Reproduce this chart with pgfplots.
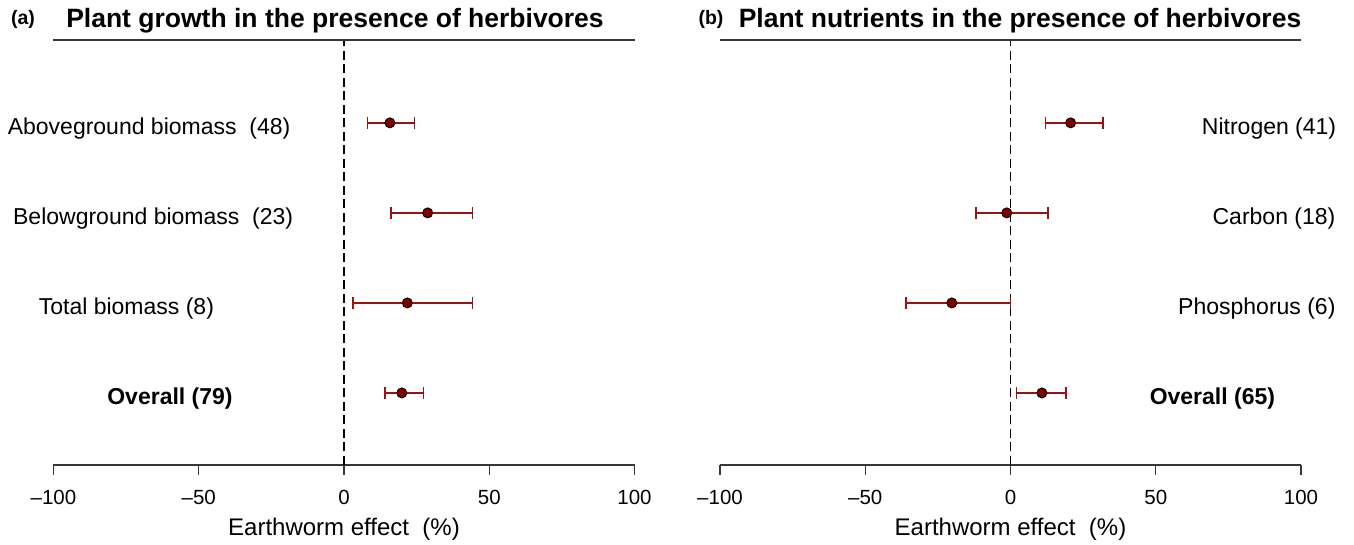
\documentclass[border=0pt]{standalone}
\usepackage{pgfplots}
\usepackage{pgfplotstable}
\pgfplotsset{compat=1.18}
\usepackage{fontspec}
\setmainfont{Liberation Sans}
\definecolor{barred}{RGB}{150,20,20}
\definecolor{ptred}{RGB}{128,0,0}
\definecolor{axgray}{RGB}{55,55,55}
\newcommand{\lab}{\fontsize{23}{27}\selectfont}
\pgfplotstableread{
x y ep em
15.8 4 8.4 7.7
28.8 3 15.4 12.6
21.8 2 22.4 18.7
19.9 1 7.4 5.8
}\growth
\pgfplotstableread{
x y ep em
20.7 4 11.2 8.7
-1.3 3 14.2 10.6
-20.2 2 20.2 15.8
10.8 1 8.2 8.8
}\nutr
\pgfplotsset{
  forest/.style={
    scale only axis, width=581pt, height=425pt,
    xmin=-100, xmax=100, ymin=0.2, ymax=4.92,
    axis x line*=bottom, axis y line=none,
    xtick={-100,-50,0,50,100},
    xticklabels={\textendash100,\textendash50,0,50,100},
    ytick=\empty,
    tick align=outside, major tick length=10pt,
    every tick/.style={axgray, line width=1.2pt},
    axis line style={axgray, line width=1.2pt},
    xticklabel style={font=\fontsize{20.5}{24}\selectfont, yshift=-12pt},
    clip=false,
  },
  zl/.style={black, line width=1.3pt, dash pattern=on 9pt off 4.5pt},
}
\newcommand{\forestplot}[1]{%
  \addplot[barred, line width=2pt, only marks, mark=none,
    error bars/.cd, x dir=both, x explicit,
    error bar style={line width=2pt, barred},
    error mark=|,
    error mark options={barred, line width=1.6pt, mark size=6pt}]
    table[x=x, y=y, x error plus=ep, x error minus=em] {#1};
  \addplot[only marks, mark=*, mark size=5pt,
    mark options={fill=ptred, draw=black, line width=0.9pt}]
    table[x=x, y=y] {#1};
}
\begin{document}
\begin{tikzpicture}
\useasboundingbox (0,0) rectangle (1354pt,545pt);
% ---------- panel (a)
\begin{axis}[forest, at={(53.5pt,80pt)}, anchor=south west]
\addplot[zl] coordinates {(0,0.2) (0,4.92)};
\draw[axgray, line width=1.2pt] (rel axis cs:0,1) -- (rel axis cs:1,1);
\forestplot{\growth}
\node[font=\lab, anchor=base, yshift=-12pt] at (axis cs:-67.1,4) {Aboveground biomass\ \ (48)};
\node[font=\lab, anchor=base, yshift=-12pt] at (axis cs:-65.7,3) {Belowground biomass\ \ (23)};
\node[font=\lab, anchor=base, yshift=-12pt] at (axis cs:-74.9,2) {Total biomass (8)};
\node[font=\lab\bfseries, anchor=base, yshift=-12pt] at (axis cs:-59.9,1) {Overall (79)};
\end{axis}
% ---------- panel (b)
\begin{axis}[forest, at={(720pt,80pt)}, anchor=south west]
\addplot[zl] coordinates {(0,0.2) (0,4.92)};
\draw[axgray, line width=1.2pt] (rel axis cs:0,1) -- (rel axis cs:1,1);
\forestplot{\nutr}
\node[font=\lab, anchor=base, yshift=-12pt] at (axis cs:89,4) {Nitrogen (41)};
\node[font=\lab, anchor=base, yshift=-12pt] at (axis cs:90.7,3) {Carbon (18)};
\node[font=\lab, anchor=base, yshift=-12pt] at (axis cs:84.8,2) {Phosphorus (6)};
\node[font=\lab\bfseries, anchor=base, yshift=-12pt] at (axis cs:69.5,1) {Overall (65)};
\end{axis}
% ---------- titles and axis labels
\node[font=\fontsize{26.5}{30}\selectfont\bfseries, anchor=base] at (335pt,517pt) {Plant growth in the presence of herbivores};
\node[font=\fontsize{19.5}{23}\selectfont\bfseries, anchor=base] at (23pt,520pt) {(a)};
\node[font=\fontsize{26.5}{30}\selectfont\bfseries, anchor=base] at (1020pt,517pt) {Plant nutrients in the presence of herbivores};
\node[font=\fontsize{19.5}{23}\selectfont\bfseries, anchor=base] at (711pt,520pt) {(b)};
\node[font=\fontsize{24}{28}\selectfont, anchor=base] at (344pt,9pt) {Earthworm effect\ \ (\%)};
\node[font=\fontsize{24}{28}\selectfont, anchor=base] at (1010.5pt,9pt) {Earthworm effect\ \ (\%)};
\end{tikzpicture}
\end{document}
